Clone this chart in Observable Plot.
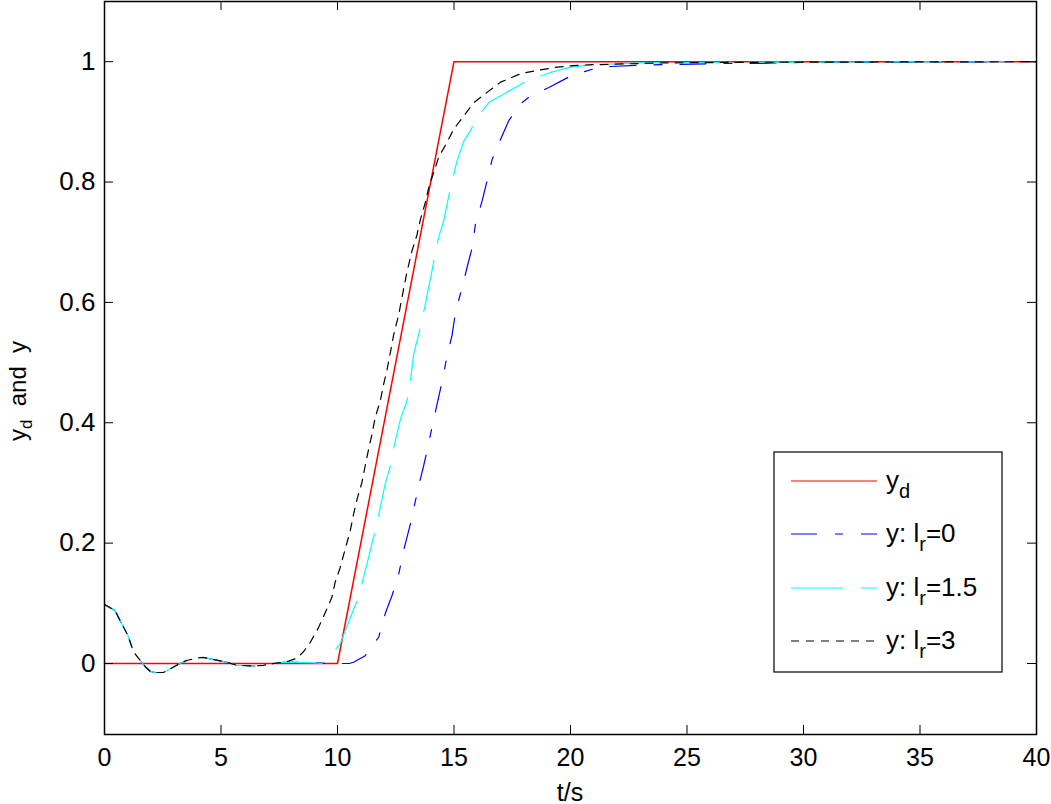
<!DOCTYPE html>
<html>
<head>
<meta charset="utf-8">
<script src="https://cdn.jsdelivr.net/npm/d3@7"></script>
<script src="https://cdn.jsdelivr.net/npm/@observablehq/plot@0.6"></script>
<style>
  html, body { margin: 0; padding: 0; background: white; }
  #chart svg { display: block; }
</style>
</head>
<body>
<div id="chart"></div>
<script>
// ---- data ----
const xTicks = [0, 5, 10, 15, 20, 25, 30, 35, 40];
const yTicks = [0, 0.2, 0.4, 0.6, 0.8, 1];

// desired trajectory y_d
const tRef = [0, 10, 15, 40];
const yRef = [0, 0, 1, 1];

// shared initial transient (all three outputs coincide)
const tStart = [0, 0.45, 0.74, 1.0, 1.24, 1.53, 1.74, 1.96, 2.17, 2.53, 2.81, 3.24, 3.53, 3.96, 4.25, 4.75, 5.25, 5.68, 6.4, 6.82, 7.25, 7.68];
const yStart = [0.098, 0.088, 0.066, 0.047, 0.02, 0.005, -0.005, -0.013, -0.015, -0.015, -0.009, 0, 0.005, 0.009, 0.01, 0.006, 0.002, -0.003, -0.004, -0.003, 0, 0.002];

// y: l_r = 0 (blue)
const tIr0 = [8.2, 9, 10, 10.5, 10.69, 11.19, 11.77, 12.05, 12.34, 12.63, 12.84, 13.13, 13.27, 13.49, 13.7, 13.91, 14.1, 14.34, 14.53, 14.7, 14.92, 15.06, 15.35, 15.56, 15.78, 15.92, 16.21, 16.42, 16.64, 17.0, 17.35, 17.86, 18.28, 19.07, 20.0, 20.9, 21.72, 22.87, 23.87, 26.45, 28, 30, 40];
const yIr0 = [0.002, 0.001, 0, 0, 0.002, 0.013, 0.044, 0.083, 0.113, 0.149, 0.188, 0.232, 0.257, 0.296, 0.329, 0.365, 0.401, 0.442, 0.476, 0.511, 0.546, 0.583, 0.625, 0.658, 0.691, 0.73, 0.769, 0.802, 0.838, 0.871, 0.902, 0.93, 0.943, 0.957, 0.976, 0.987, 0.992, 0.994, 0.995, 0.997, 0.997, 0.999, 1];

// y: l_r = 1.5 (cyan)
const tIr15 = [8.2, 9, 9.3, 9.5, 9.69, 10.12, 10.62, 10.9, 11.19, 11.41, 11.62, 11.84, 12.05, 12.27, 12.48, 12.7, 12.99, 13.13, 13.27, 13.49, 13.77, 13.91, 14.13, 14.34, 14.56, 14.7, 14.92, 15.13, 15.42, 15.7, 15.99, 16.49, 17.35, 18.14, 19.14, 20.0, 21, 23, 26, 40];
const yIr15 = [0.002, 0.001, 0, 0.004, 0.013, 0.033, 0.083, 0.11, 0.154, 0.188, 0.221, 0.26, 0.299, 0.329, 0.37, 0.406, 0.437, 0.47, 0.514, 0.548, 0.597, 0.625, 0.667, 0.708, 0.736, 0.763, 0.802, 0.835, 0.868, 0.885, 0.907, 0.932, 0.951, 0.968, 0.982, 0.991, 0.995, 0.998, 0.999, 1];

// y: l_r = 3 (black)
const tIr3 = [7.9, 8.26, 8.55, 8.83, 9.19, 9.48, 9.76, 9.9, 10.12, 10.33, 10.55, 10.69, 10.84, 11.05, 11.19, 11.34, 11.48, 11.62, 11.84, 11.98, 12.13, 12.27, 12.41, 12.63, 12.85, 12.99, 13.2, 13.41, 13.56, 13.77, 13.91, 14.13, 14.34, 14.7, 14.99, 15.42, 15.85, 16.42, 17.0, 17.86, 18.64, 19.43, 20.29, 21, 24, 28, 40];
const yIr3 = [0.004, 0.009, 0.02, 0.035, 0.06, 0.085, 0.11, 0.135, 0.16, 0.19, 0.221, 0.248, 0.273, 0.301, 0.329, 0.357, 0.381, 0.409, 0.437, 0.464, 0.489, 0.517, 0.546, 0.58, 0.625, 0.652, 0.686, 0.712, 0.738, 0.766, 0.79, 0.816, 0.841, 0.866, 0.888, 0.91, 0.932, 0.949, 0.966, 0.98, 0.986, 0.991, 0.994, 0.995, 0.998, 0.999, 1];

const seriesNames = ["y_d", "y: l_r=0", "y: l_r=1.5", "y: l_r=3"];
const seriesColors = ["#ff0000", "#0000ff", "#00ffff", "#000000"];
const seriesDash = [null, "26,18,8,18", "52,18", "8,7"];

// ---- build tables ----
const zip = (ts, ys) => ts.map((t, i) => ({t, y: ys[i]}));
const start = zip(tStart, yStart);
const dRef = zip(tRef, yRef);
const dIr0 = start.concat(zip(tIr0, yIr0));
const dIr15 = start.concat(zip(tIr15, yIr15));
const dIr3 = start.concat(zip(tIr3, yIr3));

const W = 1051, H = 804;
const mL = 104, mR = 15, mT = 1, mB = 70;
const xDom = [0, 40], yDom = [-0.118, 1.1];
const tickLen = 9;
const dyTick = tickLen * (yDom[1] - yDom[0]) / (H - mT - mB);
const dxTick = tickLen * (xDom[1] - xDom[0]) / (W - mL - mR);

const font = "'Liberation Sans', Arial, Helvetica, sans-serif";

const plot = Plot.plot({
  width: W, height: H,
  marginLeft: mL, marginRight: mR, marginTop: mT, marginBottom: mB,
  x: {domain: xDom},
  y: {domain: yDom},
  style: {fontFamily: font, background: "white", color: "black", overflow: "visible"},
  marks: [
    Plot.line(dRef, {x: "t", y: "y", stroke: seriesColors[0], strokeWidth: 1.5}),
    Plot.line(dIr0, {x: "t", y: "y", stroke: seriesColors[1], strokeWidth: 1.2, strokeDasharray: seriesDash[1]}),
    Plot.line(dIr15, {x: "t", y: "y", stroke: seriesColors[2], strokeWidth: 1.2, strokeDasharray: seriesDash[2]}),
    Plot.line(dIr3, {x: "t", y: "y", stroke: seriesColors[3], strokeWidth: 1.2, strokeDasharray: seriesDash[3]}),
    // inward ticks on all four sides
    Plot.ruleX(xTicks, {x: d => d, y1: yDom[0], y2: yDom[0] + dyTick, stroke: "black", strokeWidth: 1}),
    Plot.ruleX(xTicks, {x: d => d, y1: yDom[1], y2: yDom[1] - dyTick, stroke: "black", strokeWidth: 1}),
    Plot.ruleY(yTicks, {y: d => d, x1: xDom[0], x2: xDom[0] + dxTick, stroke: "black", strokeWidth: 1}),
    Plot.ruleY(yTicks, {y: d => d, x1: xDom[1], x2: xDom[1] - dxTick, stroke: "black", strokeWidth: 1}),
    Plot.frame({stroke: "black", strokeWidth: 1.5}),
    Plot.axisX({ticks: xTicks, tickSize: 0, tickPadding: 14, fontSize: 25, label: null, tickFormat: d => String(d)}),
    Plot.axisY({ticks: yTicks, tickSize: 0, tickPadding: 9, fontSize: 26, label: null, tickFormat: d => String(+d.toFixed(1))})
  ]
});

document.getElementById("chart").appendChild(plot);

// ---- axis titles and legend (added into the same SVG) ----
const svg = d3.select(plot);
const xs = plot.scale("x");
const cx = (xs.apply(xDom[0]) + xs.apply(xDom[1])) / 2;

svg.append("text")
  .attr("x", cx).attr("y", H - 3)
  .attr("text-anchor", "middle")
  .attr("font-family", font).attr("font-size", 25).attr("fill", "black")
  .text("t/s");

const yl = svg.append("text")
  .attr("transform", `translate(26,391) rotate(-90)`)
  .attr("text-anchor", "middle")
  .attr("font-family", font).attr("font-size", 24).attr("fill", "black");
yl.append("tspan").text("y");
yl.append("tspan").attr("font-size", 17).attr("dy", 6).text("d");
yl.append("tspan").attr("dy", -6).text("\u00a0 and \u00a0y");

// legend box
const lg = svg.append("g");
const lx0 = 774, ly0 = 452, lw = 228, lh = 220;
lg.append("rect").attr("x", lx0).attr("y", ly0).attr("width", lw).attr("height", lh)
  .attr("fill", "white").attr("stroke", "black").attr("stroke-width", 1.2);
const rowY = [481, 534, 588, 641];
const labelParts = [
  [["y", 0], ["d", 1]],
  [["y: l", 0], ["r", 1], ["=0", 0]],
  [["y: l", 0], ["r", 1], ["=1.5", 0]],
  [["y: l", 0], ["r", 1], ["=3", 0]]
];
seriesNames.forEach((name, i) => {
  const ln = lg.append("line")
    .attr("x1", 791).attr("x2", 877).attr("y1", rowY[i]).attr("y2", rowY[i])
    .attr("stroke", seriesColors[i]).attr("stroke-width", 1.2);
  if (seriesDash[i]) ln.attr("stroke-dasharray", seriesDash[i]);
  const t = lg.append("text").attr("x", 886).attr("y", rowY[i] + 8)
    .attr("text-anchor", "start")
    .attr("font-family", font).attr("font-size", 26).attr("fill", "black");
  let sub = false;
  labelParts[i].forEach(([s, isSub]) => {
    const sp = t.append("tspan").text(s);
    if (isSub && !sub) { sp.attr("dy", 9).attr("font-size", 20); sub = true; }
    else if (!isSub && sub) { sp.attr("dy", -9); sub = false; }
  });
});
</script>
</body>
</html>
